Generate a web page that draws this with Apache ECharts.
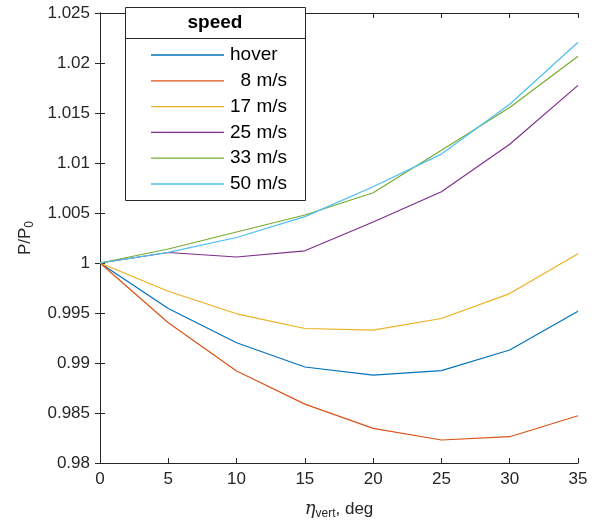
<!DOCTYPE html>
<html>
<head>
<meta charset="utf-8">
<script src="https://cdn.jsdelivr.net/npm/echarts@6/dist/echarts.min.js"></script>
<style>
  html, body { margin: 0; padding: 0; background: #fff; }
  #chart { width: 595px; height: 525px; }
</style>
</head>
<body>
<div id="chart"></div>
<script>
const angles = [0, 5, 10, 15, 20, 25, 30, 35];
const speedNames = ["hover", "  8 m/s", "17 m/s", "25 m/s", "33 m/s", "50 m/s"];
const hover = [1, 0.99545, 0.99203, 0.9896, 0.98878, 0.98924, 0.9913, 0.99518];
const speed8 = [1, 0.99402, 0.9892, 0.98589, 0.98346, 0.9823, 0.98263, 0.98472];
const speed17 = [1, 0.99717, 0.99492, 0.99345, 0.99329, 0.99445, 0.99694, 1.00093];
const speed25 = [1, 1.00105, 1.0006, 1.00122, 1.0041, 1.00713, 1.01188, 1.01776];
const speed33 = [1, 1.0014, 1.0031, 1.0048, 1.00703, 1.01128, 1.01554, 1.02068];
const speed50 = [1, 1.00106, 1.00255, 1.00464, 1.00763, 1.01089, 1.01587, 1.02207];
const lineColors = ["#0072BD", "#D95319", "#EDB120", "#7E2F8E", "#77AC30", "#4DBEEE"];

const allSeries = [hover, speed8, speed17, speed25, speed33, speed50];
const font = "'Liberation Sans', Arial, sans-serif";
const axisGray = "#262626";

const chart = echarts.init(document.getElementById("chart"), null, { renderer: "canvas" });

const baseAxisLine = { show: true, lineStyle: { color: axisGray, width: 1 } };
const tick = { show: true, inside: true, length: 5, lineStyle: { color: axisGray } };

chart.setOption({
  animation: false,
  textStyle: { fontFamily: font },
  grid: { left: 100, right: 17, top: 13, bottom: 61 },
  xAxis: [
    {
      type: "value",
      min: 0,
      max: 35,
      interval: 5,
      position: "bottom",
      axisLine: baseAxisLine,
      axisTick: tick,
      splitLine: { show: false },
      axisLabel: { color: axisGray, fontSize: 17, margin: 8 },
      name: "{eta|η}{sub|vert}, deg",
      nameLocation: "middle",
      nameGap: 35,
      nameTextStyle: {
        color: axisGray,
        fontSize: 17,
        rich: {
          eta: { fontSize: 18, fontStyle: "italic", fontFamily: "'DejaVu Serif', serif", color: axisGray },
          sub: { fontSize: 12, color: axisGray, padding: [10, 0, 0, 0] },
        },
      },
    },
    {
      type: "value",
      min: 0,
      max: 35,
      interval: 5,
      position: "top",
      axisLine: baseAxisLine,
      axisTick: tick,
      splitLine: { show: false },
      axisLabel: { show: false },
    },
  ],
  yAxis: [
    {
      type: "value",
      min: 0.98,
      max: 1.025,
      interval: 0.005,
      position: "left",
      axisLine: baseAxisLine,
      axisTick: tick,
      splitLine: { show: false },
      axisLabel: {
        color: axisGray,
        fontSize: 17,
        margin: 10,
        formatter: (v) => String(+v.toFixed(3)),
      },
      name: "P/P{sub|0}",
      nameLocation: "middle",
      nameGap: 64,
      nameRotate: 90,
      nameTextStyle: {
        color: axisGray,
        fontSize: 17,
        rich: {
          sub: { fontSize: 12, color: axisGray, padding: [10, 0, 0, 0] },
        },
      },
    },
    {
      type: "value",
      min: 0.98,
      max: 1.025,
      interval: 0.005,
      position: "right",
      axisLine: baseAxisLine,
      axisTick: tick,
      splitLine: { show: false },
      axisLabel: { show: false },
    },
  ],
  legend: {
    orient: "vertical",
    left: 146,
    top: 40.5,
    z: 6,
    icon: "rect",
    itemWidth: 73,
    itemHeight: 1.3,
    itemGap: 6.8,
    data: speedNames,
    textStyle: { fontSize: 19, color: "#000", fontFamily: font, padding: [0, 0, 0, 1] },
  },
  graphic: [
    {
      type: "rect",
      z: 5,
      shape: { x: 125.5, y: 7.5, width: 180, height: 193 },
      style: { fill: "#fff", stroke: axisGray, lineWidth: 1 },
    },
    {
      type: "line",
      z: 5,
      shape: { x1: 125.5, y1: 38.5, x2: 305.5, y2: 38.5 },
      style: { stroke: axisGray, lineWidth: 1 },
    },
    {
      type: "text",
      z: 6,
      x: 215,
      y: 23,
      style: {
        text: "speed",
        fontSize: 19,
        fontWeight: "bold",
        fontFamily: font,
        fill: "#000",
        align: "center",
        verticalAlign: "middle",
      },
    },
  ],
  series: allSeries.map((vals, i) => ({
    name: speedNames[i],
    type: "line",
    data: angles.map((a, j) => [a, vals[j]]),
    symbol: "none",
    lineStyle: { color: lineColors[i], width: 1.2 },
    itemStyle: { color: lineColors[i] },
  })),
});
</script>
</body>
</html>
